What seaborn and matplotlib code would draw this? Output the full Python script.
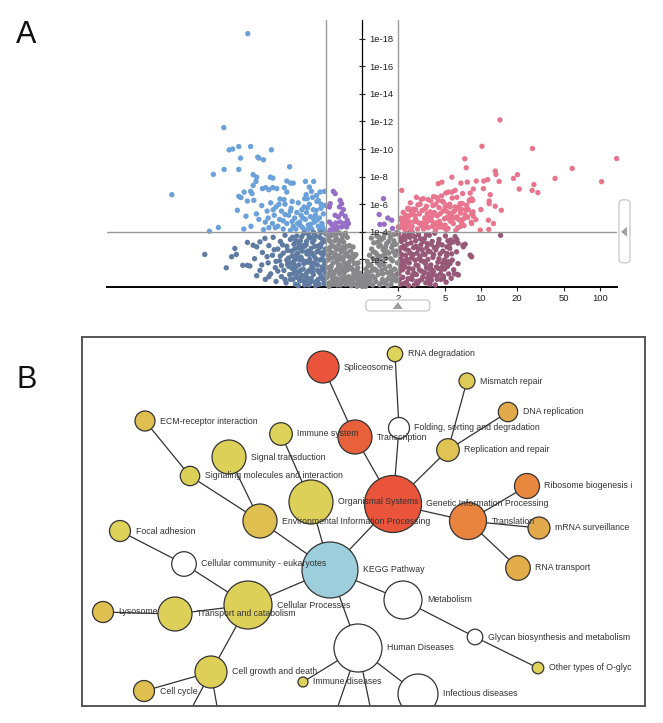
#!/usr/bin/env python3
"""Figura A (volcano) + B (red de rutas KEGG). Guarda out.png"""

import matplotlib
matplotlib.use("Agg")
import matplotlib.pyplot as plt
import seaborn as sns
import numpy as np
import pandas as pd
from matplotlib.patches import FancyBboxPatch, Polygon, Rectangle
from matplotlib.colors import LinearSegmentedColormap
from matplotlib.transforms import IdentityTransform

sns.set_theme(style="white")
plt.rcParams["font.family"] = ["Liberation Sans", "DejaVu Sans"]

# ---------------- Panel A: (log2 fold change, -log10 p) ----------------
FC_CUT = 1.0
P_CUT = 4.0
fold_ticks = [2, 5, 10, 20, 50, 100]
p_ticks = [2, 4, 6, 8, 10, 12, 14, 16, 18]

down_sig_pts = [
    (-3.19, 18.36), (-3.86, 11.55), (-3.71, 9.94), (-3.61, 10.0), (-3.44, 10.18), (-3.11, 10.18),
    (-2.53, 9.94), (-3.39, 9.34), (-2.91, 9.41), (-2.88, 9.34), (-2.75, 9.22), (-4.15, 8.16),
    (-3.85, 8.52), (-3.44, 8.52), (-2.02, 8.71), (-3.04, 8.14), (-2.94, 7.96), (-2.56, 7.96),
    (-2.49, 7.89), (-5.31, 6.69), (-2.10, 7.68), (-1.99, 7.53), (-1.92, 7.53), (-1.58, 7.65),
    (-1.35, 7.65), (-2.96, 7.65), (-3.04, 7.36), (-2.78, 7.13), (-2.69, 7.2), (-2.60, 7.05),
    (-2.49, 7.2), (-2.38, 7.13), (-2.17, 7.2), (-2.10, 6.88), (-1.47, 7.24), (-1.41, 6.93),
    (-1.17, 6.88), (-1.05, 6.93), (-3.29, 6.88), (-3.11, 6.93), (-3.07, 6.77), (-3.44, 6.57),
    (-3.38, 6.48), (-3.48, 5.56), (-3.24, 5.13), (-4.26, 4.04), (-4.01, 4.31), (-3.20, 6.23),
    (-3.02, 6.28), (-2.29, 6.38), (-2.18, 6.33), (-1.56, 6.69), (-1.53, 6.40), (-1.27, 6.64),
    (-1.22, 6.28),
    (-2.80, 5.9), (-2.65, 5.5), (-2.55, 6.1), (-2.45, 5.2), (-2.40, 5.8), (-2.30, 4.9), (-2.25, 5.5),
    (-2.15, 6.0), (-2.10, 4.6), (-2.05, 5.2), (-1.98, 5.7), (-1.92, 4.4), (-1.88, 5.0), (-1.82, 5.4),
    (-1.78, 6.1), (-1.74, 4.7), (-1.70, 5.2), (-1.66, 4.3), (-1.62, 5.8), (-1.58, 4.9), (-1.55, 5.4),
    (-1.50, 4.5), (-1.47, 6.0), (-1.44, 5.1), (-1.40, 4.2), (-1.36, 5.6), (-1.33, 4.7), (-1.30, 5.2),
    (-1.26, 6.2), (-1.22, 4.4), (-1.19, 5.0), (-1.15, 5.7), (-1.12, 4.6), (-1.08, 5.3), (-1.05, 4.1),
    (-1.03, 5.9), (-2.70, 4.7), (-2.60, 4.3), (-2.88, 4.9), (-2.95, 5.3), (-2.35, 4.4), (-2.20, 4.2),
    (-2.00, 4.1), (-1.85, 4.2), (-1.68, 5.6), (-1.95, 6.2), (-2.50, 4.6), (-3.10, 4.4), (-3.30, 4.2),
    (-2.75, 4.15), (-1.72, 4.45), (-1.43, 4.55), (-1.25, 4.85), (-1.10, 4.35), (-1.60, 4.15),
    (-2.15, 5.25), (-1.52, 5.75), (-1.38, 6.5),
    (-2.62, 5.0), (-2.48, 5.6), (-2.32, 6.0), (-2.20, 4.8), (-1.95, 4.75), (-1.80, 4.6),
    (-1.65, 5.0), (-1.48, 4.25), (-1.35, 4.95), (-1.18, 4.15), (-1.28, 5.55), (-1.60, 6.4),
    (-2.00, 5.5), (-2.42, 4.3), (-1.14, 6.0),
]

down_ns_pts = [
    (-4.39, 2.36), (-3.79, 1.39), (-3.64, 2.19), (-3.51, 2.36), (-3.55, 2.79), (-3.33, 1.57),
    (-3.20, 1.57), (-3.13, 1.52), (-2.94, 0.82), (-3.20, 3.23), (-3.04, 3.03), (-2.94, 2.91),
    (-2.85, 3.27), (-2.71, 3.52), (-3.00, 2.05), (-2.85, 1.20), (-2.78, 2.50), (-2.70, 0.55),
    (-2.62, 1.75), (-2.60, 3.00), (-2.55, 0.95), (-2.50, 2.30), (-2.48, 3.60), (-2.42, 1.40),
    (-2.40, 0.40), (-2.35, 2.75), (-2.30, 1.90), (-2.28, 3.30), (-2.25, 0.75), (-2.20, 2.45),
    (-2.18, 1.20), (-2.15, 3.75), (-2.12, 0.30), (-2.10, 2.95), (-2.08, 1.65), (-2.05, 2.10),
    (-2.02, 0.90), (-2.00, 3.45),
    (-1.97, 2.60), (-1.95, 1.35), (-1.93, 0.55), (-1.90, 3.10), (-1.88, 1.95), (-1.86, 0.20),
    (-1.84, 2.35), (-1.82, 3.70), (-1.80, 1.05), (-1.78, 2.85), (-1.76, 1.60), (-1.74, 0.45),
    (-1.72, 3.35), (-1.70, 2.15), (-1.68, 0.85), (-1.66, 2.60), (-1.64, 1.30), (-1.62, 3.90),
    (-1.60, 0.15), (-1.58, 1.85), (-1.56, 3.05), (-1.54, 2.40), (-1.52, 0.65), (-1.50, 1.15),
    (-1.48, 3.55), (-1.46, 2.00), (-1.44, 0.35), (-1.42, 2.80), (-1.40, 1.50), (-1.38, 3.25),
    (-1.36, 0.90), (-1.34, 2.25), (-1.32, 1.75), (-1.30, 0.10), (-1.28, 3.70), (-1.26, 2.55),
    (-1.24, 1.20), (-1.22, 0.55), (-1.20, 3.00), (-1.18, 1.95), (-1.16, 2.90), (-1.14, 0.80),
    (-1.12, 1.45), (-1.10, 3.45), (-1.08, 2.35), (-1.06, 0.25), (-1.04, 1.70), (-1.02, 2.75),
    (-1.01, 3.85), (-1.03, 1.05), (-1.09, 0.55), (-1.15, 3.95), (-1.27, 0.40), (-1.35, 3.95),
    (-1.45, 1.25), (-1.55, 1.00), (-1.65, 3.00), (-1.75, 2.00), (-1.85, 3.35), (-1.92, 0.95),
    (-1.12, 2.05), (-1.22, 2.60), (-1.32, 2.95), (-1.42, 0.60), (-1.52, 2.60), (-1.62, 1.70),
    (-1.72, 1.20), (-1.82, 0.70), (-1.95, 2.25), (-2.05, 1.50), (-2.15, 0.55), (-2.25, 1.55),
    (-2.45, 2.70), (-2.65, 2.20), (-1.05, 3.30), (-1.18, 3.60), (-1.38, 1.05), (-1.48, 0.15),
    (-1.58, 0.40), (-1.68, 3.65), (-1.78, 0.10), (-1.88, 2.75), (-1.98, 1.75), (-1.10, 1.25),
    (-1.25, 1.60), (-1.40, 2.45), (-1.55, 3.30), (-1.70, 2.75), (-1.85, 1.45),
    (-2.35, 1.15), (-2.28, 2.25), (-2.22, 3.05), (-2.10, 1.95), (-2.00, 0.55), (-1.94, 3.60),
    (-1.87, 1.15), (-1.79, 2.45), (-1.73, 0.65), (-1.67, 1.95), (-1.61, 2.95), (-1.57, 0.70),
    (-1.51, 1.80), (-1.47, 2.35), (-1.41, 3.60), (-1.37, 1.35), (-1.31, 0.35), (-1.29, 2.05),
    (-1.23, 2.95), (-1.19, 1.05), (-1.13, 3.15), (-1.07, 1.95), (-1.03, 0.65), (-1.06, 2.55),
    (-1.14, 2.45), (-1.34, 3.40), (-1.44, 1.80), (-1.64, 0.45), (-1.76, 3.10), (-1.90, 1.65),
    (-2.08, 2.65), (-2.40, 1.85), (-2.60, 0.75), (-2.80, 1.60), (-1.20, 0.20), (-1.50, 3.85),
    (-1.82, 2.10), (-1.02, 1.35),
]

mid_sig_pts = [
    (-0.80, 6.93), (-0.75, 6.77), (-0.61, 6.28), (-0.57, 6.04), (-0.63, 5.80), (-0.52, 5.61),
    (-0.89, 6.04), (-0.91, 5.80), (-0.75, 5.20), (-0.66, 5.08), (-0.57, 5.32), (-0.47, 5.13),
    (-0.41, 4.84), (-0.61, 4.71), (-0.73, 4.64), (-0.85, 4.55), (-0.91, 4.71), (-0.50, 4.60),
    (-0.38, 4.60), (-0.80, 4.35), (-0.68, 4.31), (-0.57, 4.35), (-0.43, 4.35), (-0.89, 4.12),
    (-0.75, 4.12),
    (0.60, 6.40), (0.48, 5.25), (0.72, 5.00), (0.83, 4.84), (0.50, 4.53), (0.85, 4.24), (0.62, 4.55),
]

ns_pts = [
    (-0.98, 3.90), (-0.95, 2.70), (-0.93, 1.40), (-0.91, 0.30), (-0.89, 3.30), (-0.87, 2.10),
    (-0.85, 0.85), (-0.83, 3.75), (-0.81, 1.75), (-0.79, 2.95), (-0.77, 0.50), (-0.75, 2.40),
    (-0.73, 1.20), (-0.71, 3.50), (-0.69, 0.15), (-0.67, 2.00), (-0.65, 3.05), (-0.63, 0.95),
    (-0.61, 1.60), (-0.59, 3.85), (-0.57, 2.55), (-0.55, 0.40), (-0.53, 1.95), (-0.51, 3.25),
    (-0.49, 1.05), (-0.47, 2.80), (-0.45, 0.20), (-0.43, 1.50), (-0.41, 3.60), (-0.39, 2.25),
    (-0.37, 0.75), (-0.35, 3.00), (-0.95, 1.95), (-0.90, 1.00), (-0.85, 2.50), (-0.80, 0.20),
    (-0.76, 3.35), (-0.72, 2.75), (-0.68, 1.30), (-0.64, 2.25), (-0.60, 0.60), (-0.56, 3.45),
    (-0.52, 2.90), (-0.48, 1.70), (-0.44, 2.45), (-0.40, 1.25), (-0.36, 1.80), (-0.97, 0.70),
    (-0.92, 3.60), (-0.86, 1.50), (-0.78, 1.00), (-0.70, 1.85), (-0.62, 3.30), (-0.54, 1.35),
    (-0.46, 3.90), (-0.38, 0.35), (-0.88, 4.00), (-0.66, 3.95), (-0.50, 0.75), (-0.74, 0.65),
    (-0.58, 2.05),
    (-0.32, 2.60), (-0.30, 1.40), (-0.28, 0.40), (-0.27, 2.00), (-0.25, 2.90), (-0.23, 0.95),
    (-0.21, 1.70), (-0.19, 0.20), (-0.17, 2.35), (-0.15, 1.20), (-0.13, 0.55), (-0.11, 1.75),
    (-0.09, 0.25), (-0.07, 1.00), (-0.05, 0.45), (-0.03, 0.10), (-0.01, 0.35), (0.01, 0.05),
    (0.03, 0.50), (0.05, 0.15), (0.07, 0.85), (0.09, 0.30), (0.11, 1.30), (0.13, 0.60),
    (0.15, 1.85), (0.17, 0.25), (0.19, 1.05), (0.21, 2.30), (0.23, 0.45), (0.25, 1.55),
    (0.27, 2.75), (0.29, 0.80), (0.31, 2.05), (0.33, 3.20), (0.35, 1.30), (-0.20, 0.60),
    (-0.10, 0.70), (0.00, 0.20), (0.10, 0.05), (0.20, 0.70), (0.30, 0.15), (-0.30, 0.10),
    (-0.24, 2.35), (0.26, 3.55), (0.18, 1.55), (-0.14, 0.05),
    (0.37, 2.50), (0.39, 0.40), (0.41, 3.70), (0.43, 1.75), (0.45, 0.90), (0.47, 2.95),
    (0.49, 0.15), (0.51, 2.20), (0.53, 3.40), (0.55, 1.20), (0.57, 0.55), (0.59, 2.70),
    (0.61, 1.65), (0.63, 3.85), (0.65, 0.25), (0.67, 2.10), (0.69, 3.15), (0.71, 1.05),
    (0.73, 0.60), (0.75, 2.45), (0.77, 1.50), (0.79, 3.60), (0.81, 0.20), (0.83, 2.85),
    (0.85, 1.90), (0.87, 0.85), (0.89, 3.35), (0.91, 1.30), (0.93, 2.30), (0.95, 0.45),
    (0.97, 3.95), (0.99, 1.75), (0.40, 1.20), (0.46, 2.05), (0.52, 3.00), (0.58, 0.95),
    (0.64, 1.35), (0.70, 2.55), (0.76, 3.90), (0.82, 1.15), (0.88, 2.55), (0.94, 3.10),
    (0.98, 0.95), (0.60, 3.55), (0.72, 0.10), (0.84, 0.50), (0.50, 1.55), (0.44, 3.25),
    (0.66, 2.90), (0.90, 3.80),
    (-0.96, 3.45), (-0.94, 2.30), (-0.92, 0.05), (-0.88, 1.25), (-0.84, 3.00), (-0.82, 0.55),
    (-0.78, 2.15), (-0.74, 3.75), (-0.70, 0.40), (-0.66, 1.60), (-0.62, 2.70), (-0.58, 1.10),
    (-0.54, 3.70), (-0.50, 2.20), (-0.46, 0.55), (-0.42, 2.95), (-0.38, 1.55), (-0.34, 2.15),
    (-0.31, 0.65), (-0.26, 1.25), (-0.22, 2.20), (-0.18, 0.80), (-0.12, 1.40), (-0.06, 0.65),
    (0.04, 0.75), (0.08, 0.45), (0.12, 0.95), (0.16, 0.55), (0.22, 1.60), (0.28, 1.20),
    (0.32, 2.55), (0.36, 0.65), (0.42, 2.35), (0.48, 3.60), (0.54, 0.30), (0.62, 2.35),
    (0.68, 0.45), (0.74, 3.30), (0.80, 2.05), (0.86, 3.05), (0.92, 0.75), (0.96, 2.60),
    (-0.90, 2.85), (-0.60, 0.15), (0.56, 1.85), (0.78, 0.85),
]

up_ns_pts = [
    (1.02, 3.85), (1.04, 2.60), (1.06, 1.20), (1.08, 0.20), (1.10, 3.30), (1.12, 1.90),
    (1.14, 0.70), (1.16, 2.95), (1.18, 3.75), (1.20, 1.45), (1.22, 2.30), (1.24, 0.35),
    (1.26, 3.10), (1.28, 1.05), (1.30, 2.65), (1.32, 1.75), (1.34, 3.60), (1.36, 0.60),
    (1.38, 2.10), (1.40, 3.95), (1.42, 1.30), (1.44, 2.85), (1.46, 0.15), (1.48, 1.95),
    (1.50, 3.35), (1.52, 0.90), (1.54, 2.45), (1.56, 1.55), (1.58, 3.80), (1.60, 0.45),
    (1.62, 2.20), (1.64, 3.05), (1.66, 1.15), (1.68, 2.70), (1.70, 0.75), (1.72, 1.85),
    (1.74, 3.50), (1.76, 2.35), (1.78, 0.30), (1.80, 1.40), (1.82, 3.15), (1.84, 2.00),
    (1.86, 0.95), (1.88, 3.75), (1.90, 2.55), (1.92, 1.60), (1.94, 0.50), (1.96, 3.30),
    (1.98, 2.15), (2.00, 1.10), (2.03, 3.90), (2.06, 2.70), (2.09, 0.80), (2.12, 1.80),
    (2.15, 3.45), (2.18, 2.40), (2.21, 1.25), (2.24, 3.05), (2.27, 0.60), (2.30, 1.95),
    (2.33, 3.70), (2.36, 2.25), (2.39, 1.50), (2.42, 0.95), (2.45, 2.80), (2.48, 3.40),
    (2.52, 1.95), (2.56, 1.25), (2.60, 3.65), (2.64, 2.55), (2.68, 1.70),
    (1.05, 0.55), (1.15, 1.65), (1.25, 2.00), (1.35, 2.45), (1.45, 1.00), (1.55, 0.25),
    (1.65, 1.90), (1.75, 1.05), (1.85, 2.60), (1.95, 1.25), (2.05, 0.15), (2.15, 2.05),
    (2.25, 1.75), (2.35, 0.35), (1.10, 2.85), (1.30, 0.10), (1.50, 2.95), (1.70, 3.30),
    (1.90, 0.20), (2.10, 2.95), (1.20, 3.45), (1.40, 0.55), (1.60, 1.25), (1.80, 3.80),
    (2.00, 2.35), (1.08, 1.55), (1.33, 3.95), (1.57, 2.75), (1.83, 0.65), (2.20, 0.55),
    (3.87, 3.75), (2.65, 3.44), (2.55, 3.27), (2.46, 3.16), (2.37, 2.91), (2.88, 3.10),
    (2.83, 2.91), (3.02, 2.31), (3.06, 2.19), (2.37, 2.43), (2.41, 1.83), (2.46, 1.71),
    (2.66, 0.92), (2.49, 0.63), (2.27, 0.63), (2.10, 0.56), (1.90, 0.63), (1.95, 1.23),
    (2.13, 1.35), (2.23, 1.42), (2.69, 0.87), (2.27, 0.79), (1.88, 0.38), (2.82, 3.03),
    (2.68, 3.18), (2.32, 1.71),
    (1.03, 0.95), (1.07, 3.55), (1.11, 2.35), (1.13, 1.25), (1.17, 0.25), (1.21, 2.75),
    (1.23, 1.80), (1.27, 3.70), (1.31, 1.35), (1.37, 3.20), (1.41, 0.85), (1.43, 2.35),
    (1.47, 3.65), (1.51, 1.60), (1.53, 0.40), (1.59, 2.05), (1.63, 3.50), (1.67, 0.55),
    (1.71, 2.40), (1.77, 1.70), (1.81, 2.85), (1.87, 1.35), (1.93, 3.10), (1.97, 0.85),
    (2.02, 2.85), (2.08, 1.45), (2.14, 3.20), (2.19, 0.95), (2.26, 2.60), (2.31, 1.30),
    (2.40, 3.35), (2.50, 2.40), (2.58, 0.95), (1.09, 2.05), (1.29, 0.60),
]

up_sig_pts = [
    (3.85, 12.11), (3.35, 10.2), (4.76, 10.04), (7.11, 9.31), (2.87, 9.29), (2.91, 8.64),
    (5.87, 8.59), (3.72, 8.40), (3.74, 8.16), (4.34, 8.14), (4.23, 7.87), (5.39, 7.87),
    (6.69, 7.63), (2.51, 7.96), (3.51, 7.78), (3.40, 7.68), (3.19, 7.68), (3.83, 7.65),
    (2.94, 7.60), (2.76, 7.53), (2.23, 7.60), (2.13, 7.49), (4.80, 7.42), (4.39, 7.10),
    (4.75, 7.0), (4.91, 6.84), (3.11, 7.10), (3.39, 7.13), (1.11, 7.0), (2.60, 7.0),
    (2.51, 6.88), (2.41, 6.88), (2.34, 6.81), (3.58, 6.69), (3.55, 6.23), (3.55, 6.04),
    (3.72, 5.85), (3.89, 5.56), (3.02, 6.81), (3.06, 6.40), (3.00, 6.23), (3.09, 6.28),
    (2.81, 6.77), (2.74, 6.04), (3.32, 5.61), (3.18, 4.89), (3.06, 4.60), (3.67, 4.60),
    (3.54, 4.17), (3.30, 4.12), (3.53, 4.84), (1.34, 5.63), (1.39, 5.56), (1.29, 5.63),
    (1.11, 4.84), (1.01, 4.35), (1.20, 4.60),
    (1.71, 6.40), (1.85, 6.33), (2.09, 6.48), (2.13, 6.28), (2.27, 6.16), (2.37, 5.92),
    (2.46, 5.80), (2.60, 5.56), (2.69, 5.80), (2.78, 5.63), (2.92, 5.92), (2.97, 5.61),
    (3.06, 5.32), (3.11, 5.13), (2.65, 5.08), (2.74, 4.84), (2.46, 4.84), (2.32, 4.48),
    (2.18, 4.35), (1.99, 4.48), (1.81, 4.71),
    (1.05, 4.30), (1.10, 4.85), (1.15, 5.40), (1.20, 4.15), (1.25, 4.60), (1.30, 5.10),
    (1.35, 6.10), (1.40, 4.40), (1.45, 5.65), (1.50, 4.90), (1.55, 4.20), (1.60, 5.30),
    (1.65, 6.35), (1.70, 4.65), (1.75, 5.00), (1.80, 5.85), (1.85, 4.30), (1.90, 5.45),
    (1.95, 4.80), (2.00, 6.55), (2.05, 4.10), (2.10, 5.15), (2.15, 5.75), (2.20, 4.55),
    (2.25, 6.20), (2.30, 4.95), (2.35, 5.50), (2.40, 4.25), (2.45, 6.00), (2.50, 5.20),
    (2.55, 4.60), (2.60, 5.80), (2.65, 6.50), (2.70, 4.90), (2.75, 5.35), (2.80, 6.05),
    (2.85, 4.45), (2.90, 5.60), (2.95, 5.05), (3.00, 6.30), (3.05, 4.70), (3.10, 5.45),
    (1.18, 4.95), (1.28, 5.70), (1.38, 4.10), (1.48, 5.15), (1.58, 4.65), (1.68, 5.55),
    (1.78, 4.45), (1.88, 5.00), (1.98, 5.90), (2.08, 4.65), (2.18, 5.30), (2.28, 4.30),
    (2.38, 5.05), (2.48, 4.75), (2.58, 5.00), (2.68, 4.30), (2.78, 4.70), (1.62, 6.00),
    (1.92, 6.25), (2.22, 6.60), (2.52, 6.45), (1.42, 5.40), (1.72, 4.20), (2.02, 5.40),
    (2.32, 5.80), (2.62, 4.10), (1.22, 5.20), (1.52, 6.50), (2.12, 4.35), (2.42, 4.95),
    (2.72, 5.65), (1.82, 5.30), (1.12, 4.55), (1.33, 4.70), (2.88, 5.25), (1.97, 4.40),
    (1.08, 5.00), (1.16, 4.30), (1.26, 4.95), (1.36, 5.25), (1.46, 4.75), (1.56, 5.95),
    (1.66, 4.45), (1.76, 5.65), (1.86, 4.85), (1.96, 5.15), (2.06, 6.00), (2.16, 4.75),
    (2.26, 5.50), (2.36, 4.15), (2.56, 5.45), (2.76, 4.40), (1.30, 4.35), (1.50, 5.60),
    (2.44, 5.35), (2.84, 4.95),
]

# ---------------- Panel B: red KEGG (coordenadas de layout, raíz en 0,0) ----------------
node_names = [
    "KEGG Pathway", "Organismal Systems", "Genetic Information Processing",
    "Environmental Information Processing", "Cellular Processes", "Metabolism",
    "Human Diseases", "Immune system", "Transcription", "Spliceosome",
    "Folding, sorting and degradation", "RNA degradation", "Replication and repair",
    "Mismatch repair", "DNA replication", "Translation", "Ribosome biogenesis in eukaryotes",
    "mRNA surveillance pathway", "RNA transport", "Signal transduction",
    "Signaling molecules and interaction", "ECM-receptor interaction",
    "Cellular community - eukaryotes", "Focal adhesion", "Transport and catabolism",
    "Lysosome", "Cell growth and death", "Cell cycle", "Glycan biosynthesis and metabolism",
    "Other types of O-glycan biosynthesis", "Immune diseases", "Infectious diseases",
    "", "", "", "",
]
node_x = [0, -19, 63, -70, -82, 73, 28, -49, 25, -7, 69, 65, 118, 137, 178, 138, 197, 209, 188,
          -101, -140, -185, -146, -210, -155, -227, -119, -186, 145, 208, -27, 88,
          -150, -108, -2, 46]
node_y = [0, 68, 66, 49, -35, -30, -78, 136, 133, 203, 142, 216, 120, 189, 158, 49, 84, 42, 2,
          113, 94, 149, 6, 39, -44, -42, -102, -121, -67, -98, -112, -124,
          -160, -165, -165, -165]
node_radius = [28, 22, 28.5, 17, 24, 19, 24, 11.3, 17, 16, 10.5, 7.7, 11.3, 8, 9.7, 18.5, 12.5, 11,
               12.3, 17, 9.7, 10, 12.3, 10.5, 17, 10.5, 16, 10.5, 7.8, 5.8, 5, 20,
               12, 12, 12, 12]
# nan = sin valor (blanco)
node_score = [np.nan, 0.05, 1.0, 0.3, 0.05, np.nan, np.nan, 0.0, 0.93, 1.0, np.nan, 0.02, 0.22,
              0.12, 0.5, 0.75, 0.73, 0.5, 0.47, 0.05, 0.05, 0.3, np.nan, 0.0, 0.05, 0.3, 0.05,
              0.3, np.nan, 0.0, 0.0, np.nan, np.nan, np.nan, np.nan, np.nan]
edges = [(0, 1), (0, 2), (0, 3), (0, 4), (0, 5), (0, 6), (1, 7), (2, 8), (8, 9), (2, 10),
         (10, 11), (2, 12), (12, 13), (12, 14), (2, 15), (15, 16), (15, 17), (15, 18),
         (3, 19), (3, 20), (20, 21), (4, 22), (22, 23), (4, 24), (24, 25), (4, 26), (26, 27),
         (26, 32), (26, 33), (5, 28), (28, 29), (6, 30), (6, 31), (6, 34), (6, 35)]


def group_of(fc, p):
    if p >= P_CUT:
        if fc >= FC_CUT:
            return "up"
        if fc <= -FC_CUT:
            return "down"
        return "mid"
    if fc >= FC_CUT:
        return "up_ns"
    if fc <= -FC_CUT:
        return "down_ns"
    return "ns"


def main():
    fig = plt.figure(figsize=(6.63, 7.23), dpi=100)
    W, H = 663.0, 723.0

    # ---------- A ----------
    all_pts = down_sig_pts + down_ns_pts + mid_sig_pts + ns_pts + up_ns_pts + up_sig_pts
    df = pd.DataFrame(all_pts, columns=["log2fc", "nlogp"])
    df["group"] = [group_of(a, b) for a, b in zip(df["log2fc"], df["nlogp"])]
    palette = {"up": "#E8748E", "up_ns": "#985878", "down": "#6BA1DA",
               "down_ns": "#5F7BA2", "mid": "#966EC8", "ns": "#88888B"}

    ax = fig.add_axes([107 / W, 1 - 287 / H, 510 / W, 267 / H])
    sns.scatterplot(data=df, x="log2fc", y="nlogp", hue="group", palette=palette,
                    s=15, linewidth=0, legend=False, ax=ax, zorder=3, clip_on=False)
    ax.set_xlim(-7.12, 7.12)
    ax.set_ylim(0, 19.35)
    ax.set_xlabel("")
    ax.set_ylabel("")

    for s in ["top", "left"]:
        ax.spines[s].set_visible(False)
    ax.spines["bottom"].set_color("black")
    ax.spines["bottom"].set_linewidth(1.4)
    ax.spines["right"].set_position(("data", 0))
    ax.spines["right"].set_color("black")
    ax.spines["right"].set_linewidth(0.9)
    ax.spines["right"].set_zorder(2)

    ax.set_xticks(np.log2(fold_ticks))
    ax.set_xticklabels([str(v) for v in fold_ticks])
    ax.yaxis.tick_right()
    ax.set_yticks(p_ticks)
    ax.set_yticklabels([f"1e-{v}" for v in p_ticks])
    ax.tick_params(axis="x", direction="out", length=3, width=0.8, pad=2,
                   labelsize=6.8, colors="#222222", bottom=True)
    ax.tick_params(axis="y", direction="inout", length=5, width=0.8, pad=3,
                   labelsize=6.8, colors="#222222", right=True)
    ax.yaxis.set_zorder(5)

    ax.axvline(-FC_CUT, color="#9a9a9a", lw=1.0, zorder=4)
    ax.axvline(FC_CUT, color="#9a9a9a", lw=1.0, zorder=4)
    ax.axhline(P_CUT, color="#9a9a9a", lw=1.0, zorder=4)

    # deslizadores de umbral
    ident = IdentityTransform()
    bx, by = ax.transData.transform((FC_CUT, 0))
    fig.add_artist(FancyBboxPatch((bx - 32, by - 24), 64, 11,
                                  boxstyle="round,pad=0,rounding_size=4",
                                  fc="white", ec="#c8c8c8", lw=0.9, transform=ident))
    fig.add_artist(Polygon([(bx - 5, by - 22), (bx + 5, by - 22), (bx, by - 15)],
                           closed=True, fc="#a0a0a0", ec="none", transform=ident))
    rx, ry = ax.transData.transform((7.12, P_CUT))
    fig.add_artist(FancyBboxPatch((rx + 2, ry - 31), 11, 63,
                                  boxstyle="round,pad=0,rounding_size=4",
                                  fc="white", ec="#c8c8c8", lw=0.9, transform=ident))
    fig.add_artist(Polygon([(rx + 4, ry), (rx + 10, ry + 5), (rx + 10, ry - 5)],
                           closed=True, fc="#a0a0a0", ec="none", transform=ident))

    # ---------- B ----------
    bx_ax = fig.add_axes([82 / W, 1 - 706 / H, 563 / W, 369 / H])
    bx_ax.set_xlim(-248, 315)
    bx_ax.set_ylim(-136, 233)
    bx_ax.set_xticks([])
    bx_ax.set_yticks([])
    for s in bx_ax.spines.values():
        s.set_color("#555555")
        s.set_linewidth(1.4)

    for a, b in edges:
        bx_ax.plot([node_x[a], node_x[b]], [node_y[a], node_y[b]],
                   color="#333333", lw=0.9, zorder=1, solid_capstyle="butt")

    cmap = LinearSegmentedColormap.from_list(
        "kegg", [(0.0, "#DDD35B"), (0.3, "#E0BF51"), (0.5, "#E2A94A"),
                 (0.75, "#E8853E"), (1.0, "#E9543A")])
    colors = []
    for i, sc in enumerate(node_score):
        if i == 0:
            colors.append("#9DCEDC")
        elif np.isnan(sc):
            colors.append("white")
        else:
            colors.append(cmap(sc))
    sizes = [(2 * r * 0.72) ** 2 for r in node_radius]
    bx_ax.scatter(node_x, node_y, s=sizes, c=colors, edgecolors="#333333",
                  linewidths=0.9, zorder=2)

    # las etiquetas se recortan un poco antes del borde derecho, como en el original
    clip = Rectangle((0, 0), (632 - 82) / 563, 1, transform=bx_ax.transAxes,
                     fc="none", ec="none")
    for name, x, y, r in zip(node_names, node_x, node_y, node_radius):
        if not name:
            continue
        t = bx_ax.annotate(name, (x, y), xytext=((r + 5) * 0.72, 0),
                           textcoords="offset points", ha="left", va="center",
                           fontsize=6.3, color="#333333", zorder=3,
                           annotation_clip=False)
        t.set_clip_path(clip)

    fig.text(26 / W, 1 - 35 / H, "A", ha="center", va="center", fontsize=22, color="#111111")
    fig.text(27 / W, 1 - 380 / H, "B", ha="center", va="center", fontsize=22, color="#111111")

    fig.savefig("out.png", dpi=100, facecolor="white")
    plt.close(fig)


if __name__ == "__main__":
    main()
